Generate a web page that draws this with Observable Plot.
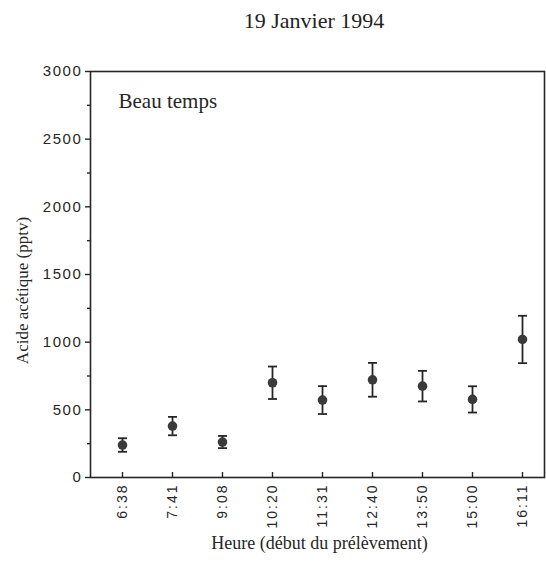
<!DOCTYPE html>
<html>
<head>
<meta charset="utf-8">
<script src="https://cdn.jsdelivr.net/npm/d3@7"></script>
<script src="https://cdn.jsdelivr.net/npm/@observablehq/plot@0.6"></script>
<style>
  body { margin: 0; background: #fff; }
  #title { height: 40px; line-height: 42px; font-family: "Liberation Serif", serif; font-size: 22px; color: #222; text-align: center; padding-left: 82px; width: 464px; }
  svg g[aria-label="y-axis tick label"] text { letter-spacing: 1.6px; }
  svg g[aria-label="x-axis tick label"] text { letter-spacing: 2px; }
</style>
</head>
<body>
<div id="title">19 Janvier 1994</div>
<div id="chart"></div>
<script>
const times = ["6:38", "7:41", "9:08", "10:20", "11:31", "12:40", "13:50", "15:00", "16:11"];
const values = [240, 380, 262, 700, 572, 722, 675, 577, 1020];
const errors = [50, 68, 45, 120, 103, 125, 113, 97, 175];
const yMajorTicks = [0, 500, 1000, 1500, 2000, 2500, 3000];
const yMinorTicks = [250, 750, 1250, 1750, 2250, 2750];
const titleText = "19 Janvier 1994";
const annotation = "Beau temps";
const yLabel = "Acide acétique (pptv)";
const xLabel = "Heure (début du prélèvement)";

document.getElementById("title").textContent = titleText;

const data = times.map((t, i) => ({t, v: values[i], e: errors[i], lo: values[i] - errors[i], hi: values[i] + errors[i]}));

const capSymbol = {
  draw(context, size) {
    const r = 4.5;
    context.moveTo(-r, 0);
    context.lineTo(r, 0);
  }
};

const ink = "#262626";

const chart = Plot.plot({
  width: 546,
  height: 522,
  marginTop: 31,
  marginBottom: 85,
  marginLeft: 90,
  marginRight: 2,
  style: {fontFamily: "'Liberation Sans', Arial, sans-serif", fontSize: "14px", color: ink, background: "#fff"},
  x: {type: "point", domain: times, padding: 0, insetLeft: 29, insetRight: 20, label: null},
  y: {domain: [0, 3000], label: null},
  marks: [
    Plot.frame({stroke: ink, strokeWidth: 1.6}),
    Plot.axisY({ticks: yMinorTicks, tickSize: 3, tickFormat: () => "", stroke: ink, strokeWidth: 1.4}),
    Plot.axisY({ticks: yMajorTicks, tickSize: 5, tickPadding: 3, tickFormat: d3.format("d"), stroke: ink, strokeWidth: 1.4, fontSize: 15, fill: ink}),
    Plot.axisX({tickSize: -5, tickFormat: () => "", stroke: ink, strokeWidth: 1.4}),
    Plot.axisX({tickSize: 0, tickPadding: 6, tickRotate: -90, textAnchor: "end", fontSize: 14, fill: ink}),
    Plot.ruleX(data, {x: "t", y1: "lo", y2: "hi", stroke: ink, strokeWidth: 1.8}),
    Plot.dot(data, {x: "t", y: "lo", symbol: capSymbol, stroke: ink, strokeWidth: 1.8, r: 4}),
    Plot.dot(data, {x: "t", y: "hi", symbol: capSymbol, stroke: ink, strokeWidth: 1.8, r: 4}),
    Plot.dot(data, {x: "t", y: "v", r: 4.8, fill: "#3a3a3a", stroke: "none"}),
    Plot.text([annotation], {frameAnchor: "top-left", dx: 28, dy: 22, textAnchor: "start", lineAnchor: "top", fontFamily: "'Liberation Serif', serif", fontSize: 21, fill: ink}),
    Plot.text([yLabel], {frameAnchor: "left", rotate: -90, dx: -68, dy: 16, textAnchor: "middle", lineAnchor: "middle", fontFamily: "'Liberation Serif', serif", fontSize: 17, fill: ink}),
    Plot.text([xLabel], {frameAnchor: "bottom", dx: 2, dy: 66, textAnchor: "middle", lineAnchor: "middle", fontFamily: "'Liberation Serif', serif", fontSize: 18, fill: ink})
  ]
});
document.getElementById("chart").appendChild(chart);
</script>
</body>
</html>
